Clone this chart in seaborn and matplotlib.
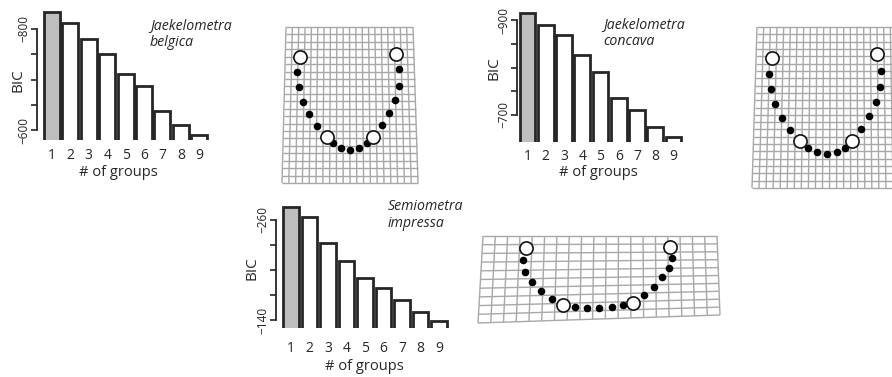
import numpy as np
import pandas as pd
import seaborn as sns
import matplotlib
matplotlib.use("Agg")
import matplotlib.pyplot as plt
from matplotlib.collections import LineCollection

W, H = 892, 377

# ---------------- data ----------------
groups = ["1", "2", "3", "4", "5", "6", "7", "8", "9"]
bic_belgica = [-834, -812, -780, -750, -711, -687, -638, -610, -590]
bic_concava = [-914, -889, -868, -826, -791, -736, -711, -675, -654]
bic_impressa = [-275, -263, -233, -211, -191, -179, -164, -150, -139]

ticks_belgica = [-800, -750, -700, -650, -600]
ticks_concava = [-900, -850, -800, -750, -700]
ticks_impressa = [-260, -230, -200, -170, -140]

# landmark configurations (open circles) and semilandmarks (black dots)
belgica_lm_x = [300.0, 395.7, 327.3, 373.3]
belgica_lm_y = [57.3, 54.0, 136.7, 136.7]
belgica_sl_x = [297.3, 298.7, 302.7, 309.3, 317.3, 333.3, 341.0, 350.0, 359.0, 366.7,
                381.7, 389.0, 395.0, 399.0, 399.3]
belgica_sl_y = [72.3, 87.3, 101.7, 114.3, 126.0, 143.3, 147.7, 150.0, 147.7, 143.3,
                125.0, 113.3, 100.0, 85.7, 69.3]

concava_lm_x = [772.3, 876.7, 800.0, 851.7]
concava_lm_y = [57.7, 54.0, 140.7, 140.7]
concava_sl_x = [769.3, 771.0, 775.3, 782.0, 790.0, 807.7, 816.7, 826.7, 836.7, 845.0,
                861.0, 869.3, 875.7, 880.0, 881.0]
concava_sl_y = [74.0, 89.0, 104.3, 117.7, 130.0, 147.7, 152.3, 154.0, 152.3, 148.3,
                129.0, 115.7, 102.3, 87.0, 70.7]

impressa_lm_x = [526.0, 670.0, 563.3, 633.3]
impressa_lm_y = [248.3, 246.7, 305.0, 303.3]
impressa_sl_x = [523.3, 525.0, 532.3, 541.0, 551.7, 575.0, 586.7, 599.0, 611.7, 623.3,
                 644.3, 654.0, 662.3, 669.3, 672.3]
impressa_sl_y = [260.0, 271.7, 281.7, 290.7, 299.0, 307.3, 307.7, 308.3, 307.0, 305.3,
                 295.0, 286.7, 277.3, 267.7, 257.7]

# ---------------- style ----------------
sns.set_theme(style="white")
plt.rcParams["font.family"] = ["Open Sans", "DejaVu Sans"]
INK = "#262626"

fig = plt.figure(figsize=(W / 100, H / 100), dpi=100)


def px_axes(x0, y0, x1, y1):
    return fig.add_axes([x0 / W, 1 - y1 / H, (x1 - x0) / W, (y1 - y0) / H])


def bar_panel(box, vals, ticks, c0, sp, ref, title, title_xy, ylab_xy, xlab_xy, xpad):
    x0, y0, x1, y1 = box
    ax = px_axes(*box)
    df = pd.DataFrame({"groups": groups, "BIC": vals})
    pal = {g: ("#bebebe" if i == 0 else "white") for i, g in enumerate(groups)}
    sns.barplot(data=df, x="groups", y="BIC", hue="groups", palette=pal,
                edgecolor=INK, linewidth=2.0, width=0.86, legend=False,
                saturation=1, ax=ax)
    ax.set_xlim((x0 - c0) / sp, (x1 - c0) / sp)
    (pt, vt), (pb, vb) = ref
    k = (pb - pt) / (vb - vt)
    ax.set_ylim(vt + (y1 - pt) / k, vt + (y0 - pt) / k)
    ax.set_yticks(ticks)
    labs = [""] * len(ticks)
    labs[0] = "\u2212%d" % abs(ticks[0])
    labs[-1] = "\u2212%d" % abs(ticks[-1])
    ax.set_yticklabels(labs)
    for t in ax.get_yticklabels():
        t.set_rotation(90)
        t.set_va("center")
        t.set_ha("right")
    ax.tick_params(axis="y", direction="out", length=4, width=1.2, color=INK,
                   pad=0.8, labelsize=8.5, labelcolor=INK, left=True)
    ax.tick_params(axis="x", length=0, pad=xpad, labelsize=10, labelcolor=INK)
    sns.despine(ax=ax, bottom=True)
    ax.spines["left"].set_bounds(ticks[0], ticks[-1])
    ax.spines["left"].set_linewidth(1.3)
    ax.spines["left"].set_color(INK)
    ax.set_facecolor("none")
    ax.set_ylabel("BIC", fontsize=11, color=INK, va="center", ha="center")
    ax.yaxis.set_label_coords((ylab_xy[0] - x0) / (x1 - x0), 1 - (ylab_xy[1] - y0) / (y1 - y0))
    ax.set_xlabel("# of groups", fontsize=10.5, color=INK, va="center", ha="center")
    ax.xaxis.set_label_coords((xlab_xy[0] - x0) / (x1 - x0), 1 - (xlab_xy[1] - y0) / (y1 - y0))
    fig.text(title_xy[0] / W, 1 - title_xy[1] / H, title, fontsize=10.2, style="italic",
             color=INK, ha="left", va="top", linespacing=1.2)
    return ax


bar_panel((37, 8, 212, 140), bic_belgica, ticks_belgica, 52, 18.4,
          ((29, -800), (130, -600)), "Jaekelometra\nbelgica", (150, 18), (18, 80), (118, 172), 5.5)
bar_panel((517, 8, 692, 142), bic_concava, ticks_concava, 527.5, 18.25,
          ((20, -900), (115, -700)), "Jaekelometra\nconcava", (603, 17), (494, 68), (598, 173), 5.0)
bar_panel((276, 198, 455, 328), bic_impressa, ticks_impressa, 291, 18.5,
          ((220, -260), (320, -140)), "Semiometra\nimpressa", (388, 199), (252, 268), (364, 367), 9.0)

# ---------------- deformation grids ----------------
ov = fig.add_axes([0, 0, 1, 1])
ov.set_xlim(0, W)
ov.set_ylim(H, 0)
ov.axis("off")
ov.set_facecolor("none")


def grid(ax, tl, tr, bl, br, ncol, nrow):
    def pt(u, v):
        top = np.array(tl) * (1 - u) + np.array(tr) * u
        bot = np.array(bl) * (1 - u) + np.array(br) * u
        return top * (1 - v) + bot * v
    segs = []
    s = np.linspace(0, 1, 40)
    for u in np.linspace(0, 1, ncol + 1):
        segs.append([pt(u, v) for v in s])
    for v in np.linspace(0, 1, nrow + 1):
        segs.append([pt(u, v) for u in s])
    ax.add_collection(LineCollection(segs, colors="#a8a8a8", linewidths=1.0))


grid(ov, (286, 27), (413, 27), (282, 183), (418, 183), 20, 21)
grid(ov, (757, 27), (897, 27), (752, 188), (900, 188), 21, 22)
grid(ov, (483, 236), (717, 236), (478, 323), (720, 315), 19, 10)

for sx, sy, lx, ly in [(belgica_sl_x, belgica_sl_y, belgica_lm_x, belgica_lm_y),
                       (concava_sl_x, concava_sl_y, concava_lm_x, concava_lm_y),
                       (impressa_sl_x, impressa_sl_y, impressa_lm_x, impressa_lm_y)]:
    sns.scatterplot(x=sx, y=sy, ax=ov, s=30, color="black", edgecolor="black",
                    linewidth=0, zorder=3)
    sns.scatterplot(x=lx, y=ly, ax=ov, s=90, color="white", edgecolor="#111111",
                    linewidth=1.2, zorder=4)
ov.set_xlim(0, W)
ov.set_ylim(H, 0)

fig.savefig("out.png", dpi=100, facecolor="white")
